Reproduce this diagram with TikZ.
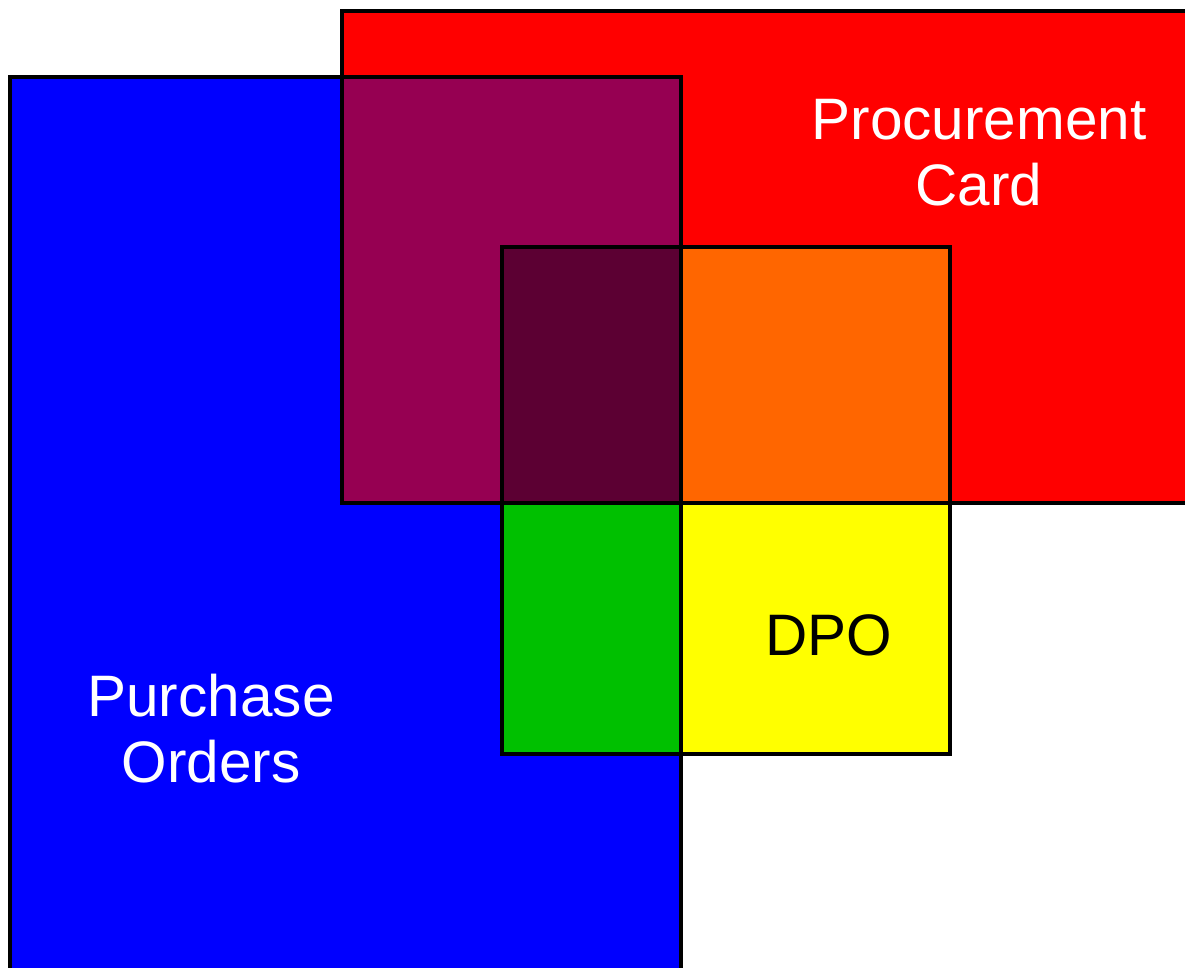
\documentclass[tikz,border=0pt]{standalone}
\usepackage{fontspec}
\setmainfont{Liberation Sans}
\definecolor{redc}{RGB}{255,0,0}
\definecolor{bluec}{RGB}{0,0,255}
\definecolor{purp}{RGB}{150,0,82}
\definecolor{darkc}{RGB}{92,0,51}
\definecolor{orng}{RGB}{255,102,0}
\definecolor{grn}{RGB}{0,192,0}
\definecolor{yel}{RGB}{255,255,0}
\tikzset{
  outline/.style={draw=black,line width=3.5pt},
  lbl/.style={font=\fontsize{58.5}{66}\selectfont,align=center,inner sep=0pt}
}
\begin{document}
\begin{tikzpicture}[x=1pt,y=-1pt]
\useasboundingbox (0,0) rectangle (1185,967);
\clip (0,0) rectangle (1185,967);
\fill[redc] (342,11) rectangle (1220,503);
\fill[bluec] (10,77) rectangle (681,1000);
\fill[purp] (342,77) rectangle (681,503);
\fill[yel] (502,247) rectangle (950,754);
\fill[darkc] (502,247) rectangle (681,503);
\fill[orng] (681,247) rectangle (950,503);
\fill[grn] (502,503) rectangle (681,754);
\draw[outline] (342,11) rectangle (1220,503);
\draw[outline] (10,77) rectangle (681,1000);
\draw[outline] (502,247) rectangle (950,754);
\node[lbl,text=white] (pc) at (979,153) {Procurement\\Card};
\node[lbl,text=white] (po) at (211,729) {Purchase\\Orders};
\node[lbl,text=black] (dpo) at (829,635) {DPO};
\end{tikzpicture}
\end{document}
